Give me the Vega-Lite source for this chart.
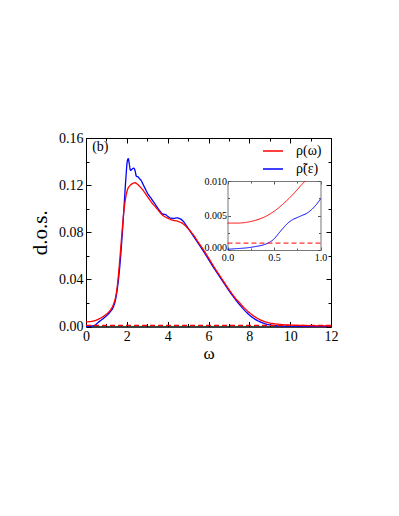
{
  "$schema": "https://vega.github.io/schema/vega-lite/v6.json",
  "width": 245,
  "height": 188.5,
  "autosize": "none",
  "padding": {"left": 86, "top": 138, "right": 68, "bottom": 189.5},
  "background": "white",
  "config": {
    "view": {"stroke": "black", "strokeWidth": 1},
    "font": "Liberation Serif",
    "axis": {
      "grid": false,
      "domainColor": "black",
      "tickColor": "black",
      "labelColor": "black",
      "titleColor": "black",
      "titleFontWeight": "normal",
      "labelFont": "Liberation Serif",
      "titleFont": "Liberation Serif",
      "labelFlush": false,
      "labelOverlap": false,
      "labelFontSize": 14
    }
  },
  "datasets": {
    "main": [
      {"w": 0, "d": 0.0002, "s": "ρ̃(ε)", "k": "solid"},
      {"w": 0.3, "d": 0.0005, "s": "ρ̃(ε)", "k": "solid"},
      {"w": 0.45, "d": 0.0012, "s": "ρ̃(ε)", "k": "solid"},
      {"w": 0.6, "d": 0.0035, "s": "ρ̃(ε)", "k": "solid"},
      {"w": 0.75, "d": 0.0055, "s": "ρ̃(ε)", "k": "solid"},
      {"w": 0.9, "d": 0.0075, "s": "ρ̃(ε)", "k": "solid"},
      {"w": 1.05, "d": 0.0098, "s": "ρ̃(ε)", "k": "solid"},
      {"w": 1.2, "d": 0.0128, "s": "ρ̃(ε)", "k": "solid"},
      {"w": 1.35, "d": 0.017, "s": "ρ̃(ε)", "k": "solid"},
      {"w": 1.45, "d": 0.023, "s": "ρ̃(ε)", "k": "solid"},
      {"w": 1.55, "d": 0.034, "s": "ρ̃(ε)", "k": "solid"},
      {"w": 1.65, "d": 0.05, "s": "ρ̃(ε)", "k": "solid"},
      {"w": 1.75, "d": 0.072, "s": "ρ̃(ε)", "k": "solid"},
      {"w": 1.85, "d": 0.098, "s": "ρ̃(ε)", "k": "solid"},
      {"w": 1.95, "d": 0.125, "s": "ρ̃(ε)", "k": "solid"},
      {"w": 2.02, "d": 0.14, "s": "ρ̃(ε)", "k": "solid"},
      {"w": 2.07, "d": 0.1425, "s": "ρ̃(ε)", "k": "solid"},
      {"w": 2.12, "d": 0.138, "s": "ρ̃(ε)", "k": "solid"},
      {"w": 2.18, "d": 0.1325, "s": "ρ̃(ε)", "k": "solid"},
      {"w": 2.25, "d": 0.1335, "s": "ρ̃(ε)", "k": "solid"},
      {"w": 2.33, "d": 0.1345, "s": "ρ̃(ε)", "k": "solid"},
      {"w": 2.4, "d": 0.1325, "s": "ρ̃(ε)", "k": "solid"},
      {"w": 2.47, "d": 0.1275, "s": "ρ̃(ε)", "k": "solid"},
      {"w": 2.55, "d": 0.127, "s": "ρ̃(ε)", "k": "solid"},
      {"w": 2.62, "d": 0.1255, "s": "ρ̃(ε)", "k": "solid"},
      {"w": 2.7, "d": 0.124, "s": "ρ̃(ε)", "k": "solid"},
      {"w": 2.8, "d": 0.1205, "s": "ρ̃(ε)", "k": "solid"},
      {"w": 2.9, "d": 0.117, "s": "ρ̃(ε)", "k": "solid"},
      {"w": 3.0, "d": 0.1135, "s": "ρ̃(ε)", "k": "solid"},
      {"w": 3.2, "d": 0.1085, "s": "ρ̃(ε)", "k": "solid"},
      {"w": 3.4, "d": 0.1035, "s": "ρ̃(ε)", "k": "solid"},
      {"w": 3.6, "d": 0.0985, "s": "ρ̃(ε)", "k": "solid"},
      {"w": 3.75, "d": 0.0955, "s": "ρ̃(ε)", "k": "solid"},
      {"w": 3.9, "d": 0.095, "s": "ρ̃(ε)", "k": "solid"},
      {"w": 4.0, "d": 0.0935, "s": "ρ̃(ε)", "k": "solid"},
      {"w": 4.15, "d": 0.092, "s": "ρ̃(ε)", "k": "solid"},
      {"w": 4.3, "d": 0.0918, "s": "ρ̃(ε)", "k": "solid"},
      {"w": 4.45, "d": 0.0922, "s": "ρ̃(ε)", "k": "solid"},
      {"w": 4.6, "d": 0.0915, "s": "ρ̃(ε)", "k": "solid"},
      {"w": 4.75, "d": 0.0895, "s": "ρ̃(ε)", "k": "solid"},
      {"w": 4.9, "d": 0.086, "s": "ρ̃(ε)", "k": "solid"},
      {"w": 5.0, "d": 0.0835, "s": "ρ̃(ε)", "k": "solid"},
      {"w": 5.25, "d": 0.077, "s": "ρ̃(ε)", "k": "solid"},
      {"w": 5.5, "d": 0.0705, "s": "ρ̃(ε)", "k": "solid"},
      {"w": 5.75, "d": 0.064, "s": "ρ̃(ε)", "k": "solid"},
      {"w": 6.0, "d": 0.057, "s": "ρ̃(ε)", "k": "solid"},
      {"w": 6.25, "d": 0.05, "s": "ρ̃(ε)", "k": "solid"},
      {"w": 6.5, "d": 0.0435, "s": "ρ̃(ε)", "k": "solid"},
      {"w": 6.75, "d": 0.037, "s": "ρ̃(ε)", "k": "solid"},
      {"w": 7.0, "d": 0.0305, "s": "ρ̃(ε)", "k": "solid"},
      {"w": 7.25, "d": 0.0245, "s": "ρ̃(ε)", "k": "solid"},
      {"w": 7.5, "d": 0.019, "s": "ρ̃(ε)", "k": "solid"},
      {"w": 7.75, "d": 0.014, "s": "ρ̃(ε)", "k": "solid"},
      {"w": 8.0, "d": 0.0098, "s": "ρ̃(ε)", "k": "solid"},
      {"w": 8.25, "d": 0.0065, "s": "ρ̃(ε)", "k": "solid"},
      {"w": 8.5, "d": 0.0042, "s": "ρ̃(ε)", "k": "solid"},
      {"w": 8.75, "d": 0.0025, "s": "ρ̃(ε)", "k": "solid"},
      {"w": 9.0, "d": 0.0014, "s": "ρ̃(ε)", "k": "solid"},
      {"w": 9.25, "d": 0.0008, "s": "ρ̃(ε)", "k": "solid"},
      {"w": 9.5, "d": 0.0005, "s": "ρ̃(ε)", "k": "solid"},
      {"w": 10, "d": 0.0003, "s": "ρ̃(ε)", "k": "solid"},
      {"w": 11, "d": 0.0002, "s": "ρ̃(ε)", "k": "solid"},
      {"w": 12, "d": 0.0001, "s": "ρ̃(ε)", "k": "solid"},
      {"w": 0, "d": 0.0039, "s": "ρ(ω)", "k": "solid"},
      {"w": 0.25, "d": 0.0043, "s": "ρ(ω)", "k": "solid"},
      {"w": 0.5, "d": 0.0054, "s": "ρ(ω)", "k": "solid"},
      {"w": 0.75, "d": 0.0075, "s": "ρ(ω)", "k": "solid"},
      {"w": 1.0, "d": 0.0105, "s": "ρ(ω)", "k": "solid"},
      {"w": 1.2, "d": 0.014, "s": "ρ(ω)", "k": "solid"},
      {"w": 1.35, "d": 0.019, "s": "ρ(ω)", "k": "solid"},
      {"w": 1.45, "d": 0.025, "s": "ρ(ω)", "k": "solid"},
      {"w": 1.55, "d": 0.037, "s": "ρ(ω)", "k": "solid"},
      {"w": 1.65, "d": 0.056, "s": "ρ(ω)", "k": "solid"},
      {"w": 1.75, "d": 0.077, "s": "ρ(ω)", "k": "solid"},
      {"w": 1.85, "d": 0.097, "s": "ρ(ω)", "k": "solid"},
      {"w": 1.95, "d": 0.11, "s": "ρ(ω)", "k": "solid"},
      {"w": 2.05, "d": 0.117, "s": "ρ(ω)", "k": "solid"},
      {"w": 2.15, "d": 0.1195, "s": "ρ(ω)", "k": "solid"},
      {"w": 2.3, "d": 0.1215, "s": "ρ(ω)", "k": "solid"},
      {"w": 2.4, "d": 0.122, "s": "ρ(ω)", "k": "solid"},
      {"w": 2.5, "d": 0.121, "s": "ρ(ω)", "k": "solid"},
      {"w": 2.65, "d": 0.1185, "s": "ρ(ω)", "k": "solid"},
      {"w": 2.8, "d": 0.1155, "s": "ρ(ω)", "k": "solid"},
      {"w": 3.0, "d": 0.1105, "s": "ρ(ω)", "k": "solid"},
      {"w": 3.25, "d": 0.1045, "s": "ρ(ω)", "k": "solid"},
      {"w": 3.5, "d": 0.0995, "s": "ρ(ω)", "k": "solid"},
      {"w": 3.75, "d": 0.0945, "s": "ρ(ω)", "k": "solid"},
      {"w": 4.0, "d": 0.092, "s": "ρ(ω)", "k": "solid"},
      {"w": 4.25, "d": 0.0902, "s": "ρ(ω)", "k": "solid"},
      {"w": 4.5, "d": 0.0893, "s": "ρ(ω)", "k": "solid"},
      {"w": 4.75, "d": 0.0872, "s": "ρ(ω)", "k": "solid"},
      {"w": 5.0, "d": 0.083, "s": "ρ(ω)", "k": "solid"},
      {"w": 5.25, "d": 0.078, "s": "ρ(ω)", "k": "solid"},
      {"w": 5.5, "d": 0.0715, "s": "ρ(ω)", "k": "solid"},
      {"w": 5.75, "d": 0.0652, "s": "ρ(ω)", "k": "solid"},
      {"w": 6.0, "d": 0.0583, "s": "ρ(ω)", "k": "solid"},
      {"w": 6.25, "d": 0.0512, "s": "ρ(ω)", "k": "solid"},
      {"w": 6.5, "d": 0.0445, "s": "ρ(ω)", "k": "solid"},
      {"w": 6.75, "d": 0.038, "s": "ρ(ω)", "k": "solid"},
      {"w": 7.0, "d": 0.0315, "s": "ρ(ω)", "k": "solid"},
      {"w": 7.25, "d": 0.0255, "s": "ρ(ω)", "k": "solid"},
      {"w": 7.5, "d": 0.0205, "s": "ρ(ω)", "k": "solid"},
      {"w": 7.75, "d": 0.0158, "s": "ρ(ω)", "k": "solid"},
      {"w": 8.0, "d": 0.0118, "s": "ρ(ω)", "k": "solid"},
      {"w": 8.25, "d": 0.0085, "s": "ρ(ω)", "k": "solid"},
      {"w": 8.5, "d": 0.006, "s": "ρ(ω)", "k": "solid"},
      {"w": 8.75, "d": 0.0042, "s": "ρ(ω)", "k": "solid"},
      {"w": 9.0, "d": 0.003, "s": "ρ(ω)", "k": "solid"},
      {"w": 9.5, "d": 0.0018, "s": "ρ(ω)", "k": "solid"},
      {"w": 10, "d": 0.0012, "s": "ρ(ω)", "k": "solid"},
      {"w": 10.5, "d": 0.0009, "s": "ρ(ω)", "k": "solid"},
      {"w": 11, "d": 0.0007, "s": "ρ(ω)", "k": "solid"},
      {"w": 12, "d": 0.0004, "s": "ρ(ω)", "k": "solid"},
      {"w": 0, "d": 0.001, "s": "ρ(ω)", "k": "dash"},
      {"w": 12, "d": 0.001, "s": "ρ(ω)", "k": "dash"}
    ],
    "inset": [
      {"w": 0, "d": 0.0001, "s": "ρ̃(ε)", "k": "solid"},
      {"w": 0.1, "d": 0.0002, "s": "ρ̃(ε)", "k": "solid"},
      {"w": 0.2, "d": 0.0003, "s": "ρ̃(ε)", "k": "solid"},
      {"w": 0.3, "d": 0.0005, "s": "ρ̃(ε)", "k": "solid"},
      {"w": 0.4, "d": 0.0008, "s": "ρ̃(ε)", "k": "solid"},
      {"w": 0.45, "d": 0.0011, "s": "ρ̃(ε)", "k": "solid"},
      {"w": 0.5, "d": 0.0016, "s": "ρ̃(ε)", "k": "solid"},
      {"w": 0.55, "d": 0.0024, "s": "ρ̃(ε)", "k": "solid"},
      {"w": 0.6, "d": 0.0032, "s": "ρ̃(ε)", "k": "solid"},
      {"w": 0.65, "d": 0.0039, "s": "ρ̃(ε)", "k": "solid"},
      {"w": 0.7, "d": 0.0044, "s": "ρ̃(ε)", "k": "solid"},
      {"w": 0.75, "d": 0.0047, "s": "ρ̃(ε)", "k": "solid"},
      {"w": 0.8, "d": 0.005, "s": "ρ̃(ε)", "k": "solid"},
      {"w": 0.85, "d": 0.0053, "s": "ρ̃(ε)", "k": "solid"},
      {"w": 0.9, "d": 0.0058, "s": "ρ̃(ε)", "k": "solid"},
      {"w": 0.95, "d": 0.0065, "s": "ρ̃(ε)", "k": "solid"},
      {"w": 1.0, "d": 0.0074, "s": "ρ̃(ε)", "k": "solid"},
      {"w": 0, "d": 0.0039, "s": "ρ(ω)", "k": "solid"},
      {"w": 0.1, "d": 0.0039, "s": "ρ(ω)", "k": "solid"},
      {"w": 0.2, "d": 0.004, "s": "ρ(ω)", "k": "solid"},
      {"w": 0.3, "d": 0.0043, "s": "ρ(ω)", "k": "solid"},
      {"w": 0.4, "d": 0.0048, "s": "ρ(ω)", "k": "solid"},
      {"w": 0.5, "d": 0.0056, "s": "ρ(ω)", "k": "solid"},
      {"w": 0.6, "d": 0.0067, "s": "ρ(ω)", "k": "solid"},
      {"w": 0.7, "d": 0.008, "s": "ρ(ω)", "k": "solid"},
      {"w": 0.8, "d": 0.0095, "s": "ρ(ω)", "k": "solid"},
      {"w": 0.835, "d": 0.01, "s": "ρ(ω)", "k": "solid"},
      {"w": 0, "d": 0.001, "s": "ρ(ω)", "k": "dash"},
      {"w": 1, "d": 0.001, "s": "ρ(ω)", "k": "dash"}
    ]
  },
  "layer": [
    {
      "data": {"name": "main"},
      "mark": {"type": "line", "strokeWidth": 1.3, "interpolate": "monotone"},
      "encoding": {
        "x": {
          "field": "w", "type": "quantitative",
          "scale": {"domain": [0, 12], "nice": false},
          "axis": {
            "orient": "bottom", "title": "ω", "titleFontSize": 17, "titlePadding": 0,
            "values": [0, 1, 2, 3, 4, 5, 6, 7, 8, 9, 10, 11, 12],
            "labelExpr": "datum.value % 2 === 0 ? datum.label : ''",
            "tickSize": {"condition": {"test": "datum.value % 2 === 0", "value": -5}, "value": -3},
            "labelPadding": 8
          }
        },
        "y": {
          "field": "d", "type": "quantitative",
          "scale": {"domain": [0, 0.16], "nice": false},
          "axis": {
            "orient": "left", "title": "d.o.s.", "titleFontSize": 21, "titlePadding": 8,
            "values": [0, 0.02, 0.04, 0.06, 0.08, 0.1, 0.12, 0.14, 0.16],
            "format": ".2f",
            "labelExpr": "round(datum.value * 100) % 4 === 0 ? datum.label : ''",
            "tickSize": {"condition": {"test": "round(datum.value * 100) % 4 === 0", "value": -5}, "value": -3},
            "labelPadding": 8
          }
        },
        "color": {
          "field": "s", "type": "nominal",
          "scale": {"domain": ["ρ(ω)", "ρ̃(ε)"], "range": ["#ff0000", "#0000ff"]},
          "legend": {
            "orient": "none", "legendX": 176, "legendY": 2, "title": null,
            "symbolType": "stroke", "symbolSize": 400, "symbolStrokeWidth": 1.5,
            "labelFontSize": 14, "labelFont": "Liberation Serif", "labelColor": "black",
            "labelOffset": 12, "rowPadding": -2, "padding": 0
          }
        },
        "strokeDash": {
          "field": "k", "type": "nominal",
          "scale": {"domain": ["solid", "dash"], "range": [[1, 0], [5, 3]]},
          "legend": null
        }
      }
    },
    {
      "data": {"values": [{"w": 0.3, "d": 0.1525, "t": "(b)"}]},
      "mark": {"type": "text", "align": "left", "baseline": "middle", "fontSize": 14, "font": "Liberation Serif", "color": "black"},
      "encoding": {
        "x": {
          "field": "w", "type": "quantitative",
          "scale": {"domain": [0, 12], "nice": false},
          "axis": {
            "orient": "top", "title": null, "labels": false,
            "values": [0, 1, 2, 3, 4, 5, 6, 7, 8, 9, 10, 11, 12],
            "tickSize": {"condition": {"test": "datum.value % 2 === 0", "value": -5}, "value": -3}
          }
        },
        "y": {
          "field": "d", "type": "quantitative",
          "scale": {"domain": [0, 0.16], "nice": false},
          "axis": {
            "orient": "right", "title": null, "labels": false,
            "values": [0, 0.02, 0.04, 0.06, 0.08, 0.1, 0.12, 0.14, 0.16],
            "tickSize": {"condition": {"test": "round(datum.value * 100) % 4 === 0", "value": -5}, "value": -3}
          }
        },
        "text": {"field": "t"}
      }
    },
    {
      "data": {"name": "inset"},
      "mark": {"type": "line", "strokeWidth": 1, "interpolate": "monotone"},
      "encoding": {
        "x": {
          "field": "w", "type": "quantitative",
          "scale": {"domain": [0, 1], "nice": false, "range": [141.5, 234.5]},
          "axis": {
            "orient": "bottom", "title": null, "offset": -76.5,
            "values": [0, 0.25, 0.5, 0.75, 1], "format": ".1f",
            "labelExpr": "round(datum.value * 4) % 2 === 0 ? datum.label : ''",
            "tickSize": {"condition": {"test": "round(datum.value * 4) % 2 === 0", "value": -3}, "value": -2},
            "labelFontSize": 10, "labelPadding": 5, "domainColor": "#777", "tickColor": "#555"
          }
        },
        "y": {
          "field": "d", "type": "quantitative",
          "scale": {"domain": [0, 0.01], "nice": false, "range": [112, 43]},
          "axis": {
            "orient": "left", "title": null, "offset": -141.5,
            "values": [0, 0.0025, 0.005, 0.0075, 0.01], "format": ".3f",
            "labelExpr": "round(datum.value * 400) % 2 === 0 ? datum.label : ''",
            "labelBaseline": {"condition": {"test": "datum.value === 0", "value": "alphabetic"}, "value": "middle"},
            "tickSize": {"condition": {"test": "round(datum.value * 400) % 2 === 0", "value": -3}, "value": -2},
            "labelFontSize": 10, "labelPadding": 4, "domainColor": "#777", "tickColor": "#555"
          }
        },
        "color": {"field": "s", "type": "nominal"},
        "strokeDash": {"field": "k", "type": "nominal", "legend": null}
      }
    },
    {
      "data": {"values": [{"w": 0, "d": 0}]},
      "mark": {"type": "point", "opacity": 0},
      "encoding": {
        "x": {
          "field": "w", "type": "quantitative",
          "scale": {"domain": [0, 1], "nice": false, "range": [141.5, 234.5]},
          "axis": {
            "orient": "top", "title": null, "labels": false, "offset": -43,
            "values": [0, 0.25, 0.5, 0.75, 1],
            "tickSize": {"condition": {"test": "round(datum.value * 4) % 2 === 0", "value": -3}, "value": -2},
            "domainColor": "#777", "tickColor": "#555"
          }
        },
        "y": {
          "field": "d", "type": "quantitative",
          "scale": {"domain": [0, 0.01], "nice": false, "range": [112, 43]},
          "axis": {
            "orient": "right", "title": null, "labels": false, "offset": -10.5,
            "values": [0, 0.0025, 0.005, 0.0075, 0.01],
            "tickSize": {"condition": {"test": "round(datum.value * 400) % 2 === 0", "value": -3}, "value": -2},
            "domainColor": "#777", "tickColor": "#555"
          }
        }
      }
    }
  ],
  "resolve": {
    "scale": {"x": "independent", "y": "independent"},
    "axis": {"x": "independent", "y": "independent"}
  }
}
